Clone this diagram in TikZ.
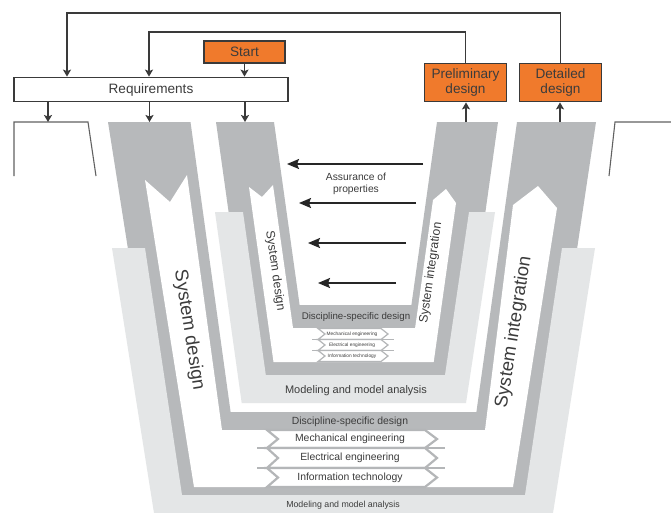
\documentclass[tikz,border=0pt]{standalone}
\usepackage{fontspec}
\setmainfont{Liberation Sans}
\usetikzlibrary{arrows.meta}
\definecolor{dkg}{HTML}{B7B9BB}
\definecolor{ltg}{HTML}{E4E6E7}
\definecolor{org}{HTML}{F07A2C}
\definecolor{lnc}{HTML}{3A3A3A}
\definecolor{txc}{HTML}{3C3C3C}
\definecolor{bandc}{HTML}{B4B6B8}
\tikzset{
  boxline/.style={draw=lnc, line width=1.3pt},
  orangebox/.style={boxline, fill=org, text=txc, inner sep=0pt, align=center,
    font=\fontsize{13.6}{14.5}\selectfont},
  reqbox/.style={boxline, fill=white, text=txc, inner sep=0pt,
    font=\fontsize{13.6}{15}\selectfont},
  conn/.style={draw=lnc, line width=1.4pt},
  arr/.style={-{Stealth[length=7pt,width=8pt,inset=1.5pt]}},
  bigarr/.style={-{Stealth[length=12pt,width=10pt,inset=2pt]}},
  bracket/.style={draw=lnc!80, line width=1.1pt},
  vtext/.style={text=txc, inner sep=0pt},
  bandbig/.style={fill=white, draw=bandc, line width=2.2pt, line join=miter},
  bandsmall/.style={fill=white, draw=bandc, line width=1.2pt, line join=miter},
}
\begin{document}
\begin{tikzpicture}[x=1pt,y=-1pt]
\fill[white] (0,0) rectangle (671,512);
\useasboundingbox (0,0) rectangle (671,512);

% ---------- big V ----------
\fill[dkg] (108,122) -- (167,497) -- (540,497) -- (596,122) -- (517,122) -- (476.4,412) -- (230.6,412) -- (190.5,122) -- cycle;
\fill[ltg] (112,248) -- (154,513) -- (553,513) -- (595,248) -- (562,248) -- (525,495) -- (182,495) -- (145,248) -- cycle;
\fill[white] (145,180) -- (170,202) -- (187,175) -- (222,430) -- (485,430) -- (513,205) -- (538,186) -- (557,208) -- (513,487) -- (194,487) -- cycle;

% ---------- small V ----------
\fill[dkg] (216,122) -- (251.7,377) -- (462.3,377) -- (498,122) -- (437,122) -- (411.4,305) -- (299.6,305) -- (274,122) -- cycle;
\fill[ltg] (215,212) -- (241.7,403) -- (466,403) -- (495,212) -- (469,212) -- (445,375) -- (265.8,375) -- (243,212) -- cycle;
\fill[white] (249,187) -- (262,197) -- (273,185) -- (293,328) -- (415.1,328) -- (433,200) -- (446,189) -- (456,203) -- (433.7,362) -- (273.5,362) -- cycle;

% ---------- discipline bands (big) ----------
\draw[draw=bandc, line width=2.2pt] (257,448) -- (445,448);
\draw[draw=bandc, line width=2.2pt] (257,468) -- (445,468);
\foreach \t/\b in {430/448, 448/468, 468/487} {
  \pgfmathsetmacro\m{(\t+\b)/2}
  \draw[bandbig] (267,\t) -- (425,\t) -- (437,\m) -- (425,\b) -- (267,\b) -- (278,\m) -- cycle;
}
\node[vtext, font=\fontsize{10.4}{12}\selectfont] (bm) at (350,439) {Mechanical engineering};
\node[vtext, font=\fontsize{10.4}{12}\selectfont] (be) at (350,458) {Electrical engineering};
\node[vtext, font=\fontsize{10.4}{12}\selectfont] (bi) at (350,477.5) {Information technology};
\node[vtext, font=\fontsize{10.4}{12}\selectfont] (bd) at (350,421.5) {Discipline-specific design};
\node[vtext, font=\fontsize{8.8}{10}\selectfont] (bmod) at (343,505) {Modeling and model analysis};

% ---------- discipline bands (small) ----------
\draw[draw=bandc, line width=1.2pt] (312,339.5) -- (394,339.5);
\draw[draw=bandc, line width=1.2pt] (312,350.5) -- (394,350.5);
\foreach \t/\b in {328.5/339.5, 339.5/350.5, 350.5/361.5} {
  \pgfmathsetmacro\m{(\t+\b)/2}
  \draw[bandsmall] (318,\t) -- (381,\t) -- (388,\m) -- (381,\b) -- (318,\b) -- (325,\m) -- cycle;
}
\node[vtext, font=\fontsize{4.8}{5}\selectfont] (sm) at (352,334) {Mechanical engineering};
\node[vtext, font=\fontsize{4.8}{5}\selectfont] (se) at (352,345) {Electrical engineering};
\node[vtext, font=\fontsize{4.8}{5}\selectfont] (si) at (352,356) {Information technology};
\node[vtext, font=\fontsize{9.7}{11}\selectfont] (sd) at (356,317) {Discipline-specific design};
\node[vtext, font=\fontsize{11}{12}\selectfont] (smod) at (356,391) {Modeling and model analysis};

% ---------- arm texts ----------
\node[vtext, rotate=-81, font=\fontsize{18.5}{20}\selectfont] (bsd) at (189,330) {System design};
\node[vtext, rotate=81, font=\fontsize{18.5}{20}\selectfont] (bsi) at (514,332) {System integration};
\node[vtext, rotate=-82, font=\fontsize{12.3}{13}\selectfont] (ssd) at (275,271) {System design};
\node[vtext, rotate=82, font=\fontsize{12.3}{13}\selectfont] (ssi) at (431,273) {System integration};

% ---------- assurance arrows ----------
\node[vtext, align=center, font=\fontsize{10.3}{12}\selectfont] (ass) at (356,183.5) {Assurance of\\properties};
\coordinate (a1s) at (423,164); \coordinate (a1e) at (287,164);
\coordinate (a2s) at (416,203); \coordinate (a2e) at (299,203);
\coordinate (a3s) at (406,243); \coordinate (a3e) at (308,243);
\coordinate (a4s) at (396,283); \coordinate (a4e) at (318,283);
\foreach \i in {1,2,3,4} { \draw[conn, line width=1.8pt, draw=black!85, bigarr] (a\i s) -- (a\i e); }

% ---------- brackets ----------
\draw[bracket] (14,176) -- (14,122) -- (88,122) -- (96,176);
\draw[bracket] (609,176) -- (615,122) -- (671,122);

% ---------- top boxes ----------
\node[orangebox, minimum width=81pt, minimum height=22pt] (start) at (244.5,52) {Start};
\node[reqbox, minimum width=274pt, minimum height=24.5pt] (req) at (151,89.5) {Requirements};
\node[orangebox, minimum width=82pt, minimum height=38.5pt] (prel) at (465.5,82.5) {Preliminary\\design};
\node[orangebox, minimum width=82pt, minimum height=38.5pt] (det) at (560.5,82.5) {Detailed\\design};

\coordinate (loopA) at (67,13);
\coordinate (loopB) at (149,32);
\coordinate (armA) at (48,122);
\coordinate (armB) at (149.5,122);
\coordinate (armC) at (245,122);
\coordinate (armD) at (466,122);
\coordinate (armE) at (560,122);

\draw[conn, arr] (det.north) |- (loopA) -- (loopA |- req.north);
\draw[conn, arr] (prel.north) |- (loopB) -- (loopB |- req.north);
\draw[conn, arr] (start.south) -- (start.south |- req.north);
\draw[conn, arr] (req.south -| armA) -- (armA);
\draw[conn, arr] (req.south -| armB) -- (armB);
\draw[conn, arr] (req.south -| armC) -- (armC);
\draw[conn, arr] (armD) -- (armD |- prel.south);
\draw[conn, arr] (armE) -- (armE |- det.south);
\end{tikzpicture}
\end{document}
